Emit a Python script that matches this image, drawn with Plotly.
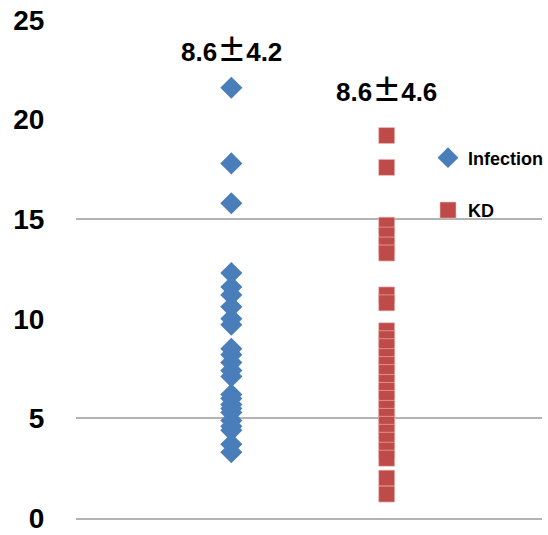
import plotly.graph_objects as go

infection = [21.6, 17.8, 15.8,
             12.3, 11.6, 11.2, 10.6, 10.0, 9.7,
             8.5, 8.2, 7.8, 7.4, 7.1,
             6.2, 6.0, 5.7, 5.5, 5.3, 4.9, 4.6, 4.4, 3.7, 3.3]
kd = [19.2, 17.6,
      14.7, 14.2, 13.7, 13.3,
      11.2, 10.8,
      9.4, 9.0, 8.6, 8.1, 7.7, 7.3, 6.8, 6.4, 6.0, 5.5, 5.1, 4.7, 4.3, 3.9, 3.4, 3.0,
      2.0, 1.2]
groups = ["Infection", "KD"]
label_means = ["8.6", "8.6"]
label_sds = ["4.2", "4.6"]
label_y = [23.6, 21.6]
y_ticks = [0, 5, 10, 15, 20, 25]
grid_vals = [5, 15]

FONT = "Liberation Sans, Arial, sans-serif"
PM = ('<span style="font-family:\'Noto Sans CJK JP\';font-size:29px">'
      '\u00b1</span>')

fig = go.Figure()
fig.add_trace(go.Scatter(
    x=[1] * len(infection), y=infection, mode="markers",
    name=groups[0],
    marker=dict(symbol="diamond", size=17, color="#4a7ebb",
                line=dict(width=0)),
    legendgroup="a"))
fig.add_trace(go.Scatter(
    x=[2] * len(kd), y=kd, mode="markers",
    name=groups[1],
    marker=dict(symbol="square", size=16, color="#be4b48",
                line=dict(width=0.6, color="#f0c0c0")),
    legendgroup="b"))
# invisible trace to carry the gridline axis
fig.add_trace(go.Scatter(x=[None], y=[None], yaxis="y2", showlegend=False,
                         hoverinfo="skip"))

for i, (m, s, yy) in enumerate(zip(label_means, label_sds, label_y)):
    fig.add_annotation(x=i + 1, y=yy, text=m + PM + s,
                       showarrow=False,
                       font=dict(family=FONT, size=26, color="black",
                                 weight="bold"))

fig.update_layout(
    width=548, height=535,
    margin=dict(l=76, r=0, t=20, b=17),
    paper_bgcolor="white", plot_bgcolor="white",
    showlegend=True,
    legend=dict(x=0.756, y=0.76, xanchor="left", yanchor="top",
                bgcolor="rgba(0,0,0,0)", tracegroupgap=26,
                font=dict(family=FONT, size=18, color="black",
                          weight="bold"),
                itemwidth=30),
    xaxis=dict(range=[0, 3], showticklabels=False, showgrid=False,
               zeroline=False, showline=True, linecolor="#b3b3b3",
               linewidth=1.5, ticks=""),
    yaxis=dict(range=[0, 25], tickvals=y_ticks, showgrid=False,
               zeroline=False, showline=False,
               ticks="outside", ticklen=25, tickcolor="rgba(0,0,0,0)",
               tickfont=dict(family=FONT, size=28, color="black",
                             weight="bold")),
    yaxis2=dict(range=[0, 25], overlaying="y", tickvals=grid_vals,
                showticklabels=False, showgrid=True, gridcolor="#b3b3b3",
                gridwidth=1.5, zeroline=False, showline=False),
)

fig.write_html(
    "out.html",
    config={"displayModeBar": False},
    post_script="document.body.style.margin='0';"
                "document.body.style.overflow='hidden';",
)
